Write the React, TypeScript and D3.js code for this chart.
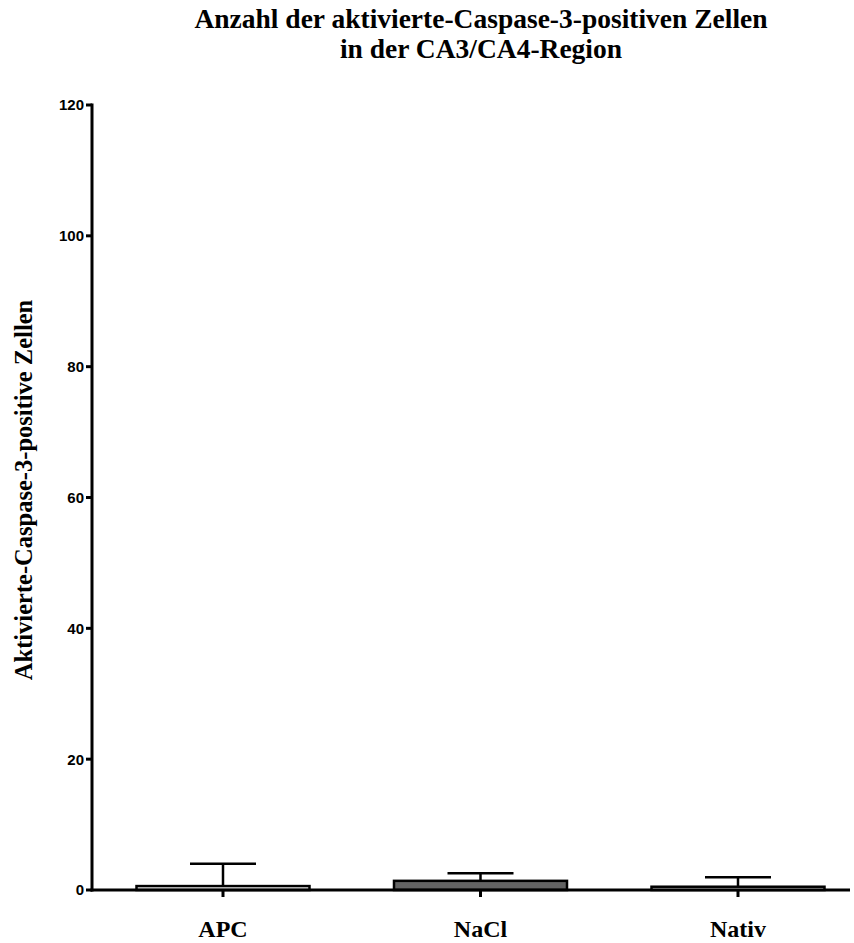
import * as d3 from "d3";

const categories = ["APC", "NaCl", "Nativ"];
const means = [0.6, 1.4, 0.5];
const errors = [3.4, 1.15, 1.45];
const fills = ["#ffffff", "#636363", "#ffffff"];
const yTicks = [0, 20, 40, 60, 80, 100, 120];

const W = 854;
const H = 943;

const y = d3.scaleLinear().domain([0, 120]).range([890, 105]);
const x = d3.scalePoint<string>().domain(categories).range([223, 738]);

const barW = 173;
const capW = 66;
const axisX = 92;
const serif = "'Liberation Serif', 'Times New Roman', serif";

export default function App() {
  return (
    <div style={{ position: "absolute", left: 0, top: 0 }}>
      <svg width={W} height={H} style={{ display: "block", background: "#fff" }}>
        <text textAnchor="middle" fontFamily={serif} fontWeight="bold" fontSize={27.5}>
          <tspan x={481} y={28}>Anzahl der aktivierte-Caspase-3-positiven Zellen</tspan>
          <tspan x={481} y={58}>in der CA3/CA4-Region</tspan>
        </text>

        <text
          transform={`translate(32,${490}) rotate(-90)`}
          textAnchor="middle"
          fontFamily={serif}
          fontWeight="bold"
          fontSize={24.5}
        >
          Aktivierte-Caspase-3-positive Zellen
        </text>

        {categories.map((c, i) => {
          const cx = x(c)!;
          const top = y(means[i]);
          const errTop = y(means[i] + errors[i]);
          return (
            <g key={c}>
              <line x1={cx} x2={cx} y1={top} y2={errTop} stroke="#000" strokeWidth={2.5} />
              <line x1={cx - capW / 2} x2={cx + capW / 2} y1={errTop} y2={errTop} stroke="#000" strokeWidth={2.5} />
              <rect
                x={cx - barW / 2}
                y={top}
                width={barW}
                height={y(0) - top}
                fill={fills[i]}
                stroke="#000"
                strokeWidth={2.5}
              />
            </g>
          );
        })}

        {/* y axis */}
        <line x1={axisX} x2={axisX} y1={y(120) - 1.5} y2={y(0) + 1.5} stroke="#000" strokeWidth={3} />
        {yTicks.map((t) => (
          <g key={t}>
            <line x1={axisX - 6} x2={axisX} y1={y(t)} y2={y(t)} stroke="#000" strokeWidth={3} />
            <text
              x={axisX - 8}
              y={y(t)}
              dy="0.36em"
              textAnchor="end"
              fontFamily="'Liberation Sans', Arial, sans-serif"
              fontWeight="bold"
              fontSize={15}
            >
              {t}
            </text>
          </g>
        ))}

        {/* x axis */}
        <line x1={axisX - 1.5} x2={850} y1={y(0)} y2={y(0)} stroke="#000" strokeWidth={3} />
        {categories.map((c) => (
          <g key={c}>
            <line x1={x(c)!} x2={x(c)!} y1={y(0)} y2={y(0) + 7} stroke="#000" strokeWidth={3} />
            <text x={x(c)!} y={937} textAnchor="middle" fontFamily={serif} fontWeight="bold" fontSize={24}>
              {c}
            </text>
          </g>
        ))}
      </svg>
    </div>
  );
}
